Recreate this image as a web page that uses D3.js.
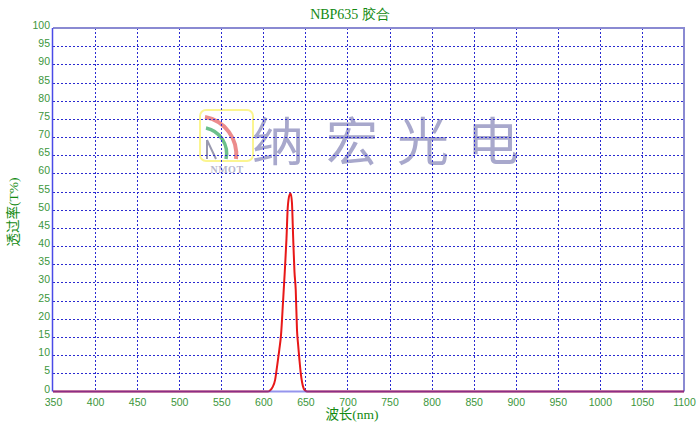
<!DOCTYPE html>
<html><head><meta charset="utf-8">
<script src="https://cdn.jsdelivr.net/npm/d3@7/dist/d3.min.js"></script>
<style>body{margin:0;background:#fff}svg{display:block}</style>
</head><body><svg id="c" width="700" height="425"></svg>
<script>
const title = "NBP635 胶合";
const xLabel = "波长(nm)";
const yLabel = "透过率(T%)";
const xTicks = [350,400,450,500,550,600,650,700,750,800,850,900,950,1000,1050,1100];
const yTicks = [0,5,10,15,20,25,30,35,40,45,50,55,60,65,70,75,80,85,90,95,100];
const wavelength = [350,400,450,500,550,600,605,608,611,614,616.5,619,621,623.5,625.5,627.5,629,631,632.5,634,635.5,637,638.5,640,641.5,643,644.5,646,648,650,652,700,750,800,850,900,950,1000,1050,1100];
const transmit   = [0,0,0,0,0,0,0,0.3,1.2,3.2,7.2,11.5,15.5,25,33,42,50.5,54,54.5,52,42,33,28,17,12.5,8.5,5,2.6,0.8,0.2,0,0,0,0,0,0,0,0,0,0];

const svg = d3.select("#c");
const L=53,R=684,T=28,B=391.5;
const x = d3.scaleLinear().domain([350,1100]).range([L,R]);
const y = d3.scaleLinear().domain([0,100]).range([B,T]);
const green="#3c963c";

// watermark
const wm = svg.append("g");
wm.append("rect").attr("x",200).attr("y",110).attr("width",53).attr("height",51).attr("rx",6)
  .attr("fill","none").attr("stroke","#fbf590").attr("stroke-width",2);
wm.append("path").attr("d","M205,117 A38,38 0 0 1 236,159").attr("fill","none").attr("stroke","#ec8c8c").attr("stroke-width",4);
wm.append("path").attr("d","M206,128 A26,26 0 0 1 226,159").attr("fill","none").attr("stroke","#6cc08c").attr("stroke-width",3.5);
wm.append("path").attr("d","M207,140 L207,159 M207,140 L216,159").attr("fill","none").attr("stroke","#9a9ab0").attr("stroke-width",2);
wm.append("text").attr("x",227).attr("y",173).attr("text-anchor","middle")
  .attr("font-family","Liberation Serif, serif").attr("font-weight","bold").attr("font-size",10)
  .attr("fill","#b8b8cc").attr("letter-spacing",0.5).text("NMOT");
["纳","宏","光","电"].forEach((ch,i)=>{
  wm.append("text").attr("x",[278,352,423,493][i]).attr("y",161).attr("text-anchor","middle")
    .attr("font-family","Noto Sans CJK SC").attr("font-weight",400).attr("font-size",52)
    .attr("fill","#a8a8cc").text(ch);
});

// grid
const g = svg.append("g");
g.selectAll(".gy").data(yTicks.filter(d=>d>0&&d<100)).join("line")
  .attr("x1",L).attr("x2",R).attr("y1",d=>Math.round(y(d))+0.5).attr("y2",d=>Math.round(y(d))+0.5)
  .attr("stroke","#2a2ad0").attr("stroke-width",1).attr("stroke-dasharray","2,2");
g.selectAll(".gx").data(xTicks.filter(d=>d>350&&d<1100)).join("line")
  .attr("y1",T).attr("y2",B).attr("x1",d=>Math.round(x(d))+0.5).attr("x2",d=>Math.round(x(d))+0.5)
  .attr("stroke","#2a2ad0").attr("stroke-width",1).attr("stroke-dasharray","2,2");

// frame
svg.append("line").attr("x1",L).attr("x2",R+1).attr("y1",T).attr("y2",T).attr("stroke","#8a8ad2").attr("stroke-width",2);
svg.append("line").attr("x1",R).attr("x2",R).attr("y1",T).attr("y2",B).attr("stroke","#8a8ad2").attr("stroke-width",2);
svg.append("line").attr("x1",L-0.5).attr("x2",L-0.5).attr("y1",T).attr("y2",B).attr("stroke","#4a4ae8").attr("stroke-width",1.5);

// data
const line = d3.line().x((d,i)=>x(wavelength[i])).y(d=>y(d)).curve(d3.curveMonotoneX);
svg.append("path").datum(transmit).attr("d",line).attr("fill","none").attr("stroke","#e81818").attr("stroke-width",2);
svg.append("line").attr("x1",L).attr("x2",R).attr("y1",B).attr("y2",B).attr("stroke","#4040e0").attr("stroke-width",2).attr("opacity",0.55);

// axes labels
const tf = "Liberation Sans, Arial, sans-serif";
const ax = d3.axisBottom(x).tickValues(xTicks).tickSize(0).tickPadding(0).tickFormat(d3.format("d"));
const xa = svg.append("g").attr("transform",`translate(0,${B})`).call(ax);
xa.select(".domain").remove();
xa.selectAll("text").attr("y",14.5).attr("dy",0).attr("fill",green).attr("font-family",tf).attr("font-size",10.5);
const ay = d3.axisLeft(y).tickValues(yTicks).tickSize(0).tickPadding(0).tickFormat(d3.format("d"));
const ya = svg.append("g").attr("transform",`translate(${L-3},0)`).call(ay);
ya.select(".domain").remove();
ya.selectAll("text").attr("x",0).attr("dy","0.05em").attr("fill",green).attr("font-family",tf).attr("font-size",10.5);

svg.append("text").attr("x",350).attr("y",19).attr("text-anchor","middle").attr("fill","#128a12")
  .attr("font-family","Liberation Serif, serif").attr("font-size",14).text(title);
svg.append("text").attr("x",352).attr("y",419).attr("text-anchor","middle").attr("fill","#128a12")
  .attr("font-family","Liberation Serif, Noto Sans CJK SC, serif").attr("font-size",13.5).text(xLabel);
svg.append("text").attr("transform","translate(18,212) rotate(-90)").attr("text-anchor","middle").attr("fill","#128a12")
  .attr("font-family","Liberation Serif, Noto Sans CJK SC, serif").attr("font-size",13.5).text(yLabel);
</script></body></html>
